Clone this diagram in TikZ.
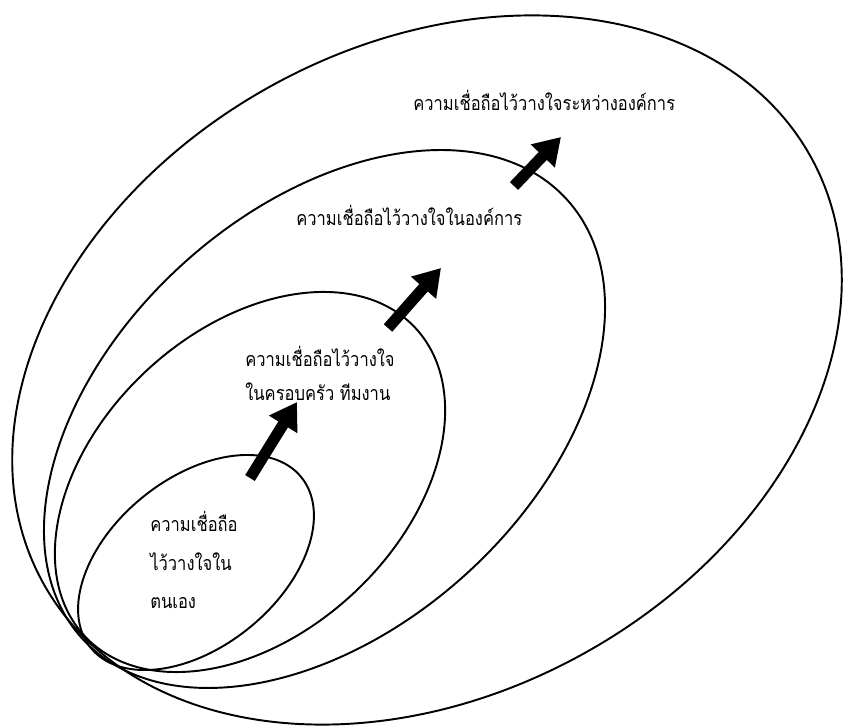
\documentclass[tikz,border=0pt]{standalone}
\usepackage{fontspec}
\newfontfamily\thaifont[Script=Thai,FakeStretch=0.84]{Loma}
\usetikzlibrary{arrows.meta}
\begin{document}
\begin{tikzpicture}[x=0.02cm,y=0.02cm,
	ring/.style={draw, line width=1.1pt},
	growth/.style={line width=6.4pt, -{Triangle[width=18pt,length=15pt]}},
	lbl/.style={font=\thaifont\fontsize{11.2}{19}\selectfont, align=left, inner sep=0pt, anchor=west}]
			\useasboundingbox (0,0) rectangle (844,726);
			\draw[ring, rotate around={29.1:(427,356)}] (427,356) ellipse [x radius=439, y radius=324];
			\draw[ring, rotate around={42.1:(324.5,307)}] (324.5,307) ellipse [x radius=327, y radius=210];
			\draw[ring, rotate around={43:(250,244)}] (250,244) ellipse [x radius=226, y radius=152];
			\draw[ring, rotate around={39:(196,163.5)}] (196,163.5) ellipse [x radius=135.5, y radius=84.3];
			\node[lbl] (org2) at (413,626) {ความเชื่อถือไว้วางใจระหว่างองค์การ};
			\node[lbl] (org) at (296,511) {ความเชื่อถือไว้วางใจในองค์การ};
			\node[lbl] (team) at (245,352.5) {ความเชื่อถือไว้วางใจ\\ในครอบครัว ทีมงาน};
			\node[lbl, font=\thaifont\fontsize{11.2}{22}\selectfont] (self) at (150,166) {ความเชื่อถือ\\ไว้วางใจใน\\ตนเอง};
			\coordinate (a0) at (250,248);
			\coordinate (a1) at (297,324);
			\coordinate (b0) at (388,398);
			\coordinate (b1) at (441,458);
			\coordinate (c0) at (514,540);
			\coordinate (c1) at (561,589);
			\draw[growth] (a0)--(a1);
			\draw[growth] (b0)--(b1);
			\draw[growth] (c0)--(c1);
\end{tikzpicture}
\end{document}
